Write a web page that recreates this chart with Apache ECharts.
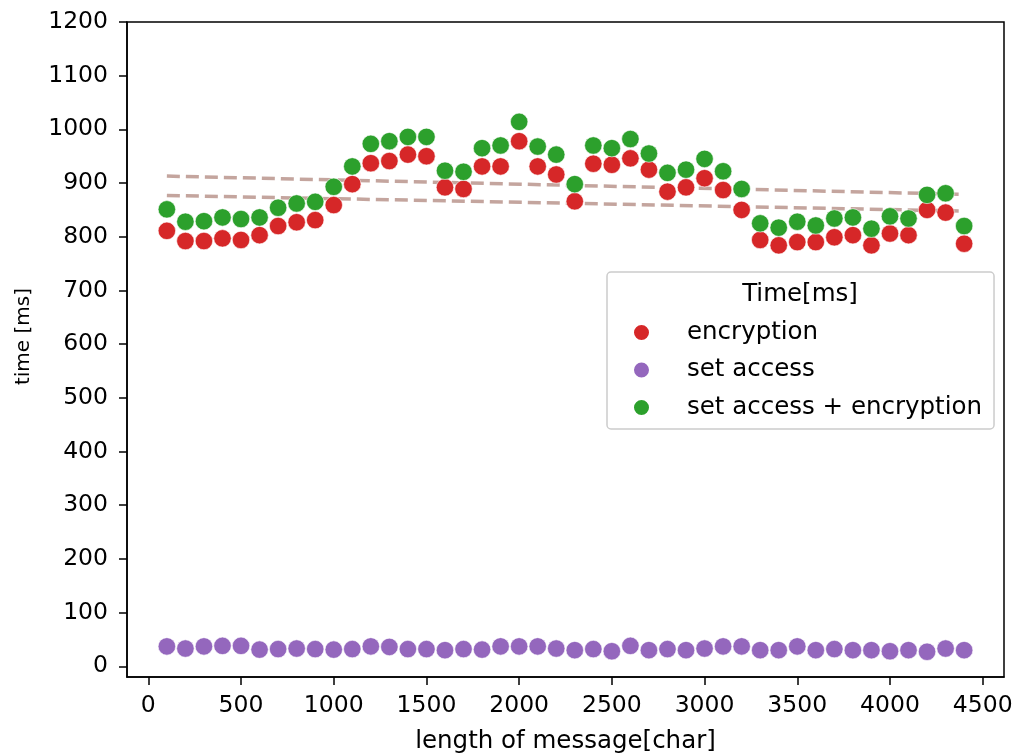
<!DOCTYPE html>
<html>
<head>
<meta charset="utf-8">
<script src="https://cdn.jsdelivr.net/npm/echarts@6/dist/echarts.min.js"></script>
<style>
  html, body { margin: 0; padding: 0; background: #fff; }
  #chart { width: 1016px; height: 755px; }
</style>
</head>
<body>
<div id="chart"></div>
<script>
var msgLength = [100, 200, 300, 400, 500, 600, 700, 800, 900, 1000, 1100, 1200, 1300, 1400, 1500,
  1600, 1700, 1800, 1900, 2000, 2100, 2200, 2300, 2400, 2500, 2600, 2700, 2800, 2900, 3000,
  3100, 3200, 3300, 3400, 3500, 3600, 3700, 3800, 3900, 4000, 4100, 4200, 4300, 4400];
var encryption = [811, 792, 792, 797, 794, 803, 820, 827, 831, 859, 898, 937, 941, 953, 950,
  892, 889, 931, 931, 978, 931, 916, 866, 936, 934, 946, 925, 884, 892, 909,
  887, 850, 794, 784, 790, 790, 799, 803, 784, 806, 803, 850, 845, 787];
var setAccess = [37, 33, 37, 38, 38, 31, 32, 33, 32, 31, 32, 37, 36, 32, 32,
  30, 32, 31, 37, 37, 37, 33, 30, 32, 28, 38, 30, 32, 30, 33,
  37, 37, 30, 30, 37, 30, 32, 30, 30, 28, 30, 27, 33, 30];
var setAccessEnc = [851, 828, 829, 836, 833, 836, 854, 862, 865, 893, 931, 973, 978, 986, 986,
  923, 921, 965, 970, 1014, 968, 953, 898, 970, 965, 982, 955, 919, 925, 945,
  922, 889, 825, 817, 828, 821, 834, 836, 815, 838, 834, 878, 881, 820];
// dashed trend lines, end points
var trendEnc = [[100, 877], [4400, 848]];
var trendBoth = [[100, 913], [4400, 879]];
var xTicks = [0, 500, 1000, 1500, 2000, 2500, 3000, 3500, 4000, 4500];
var yTicks = [0, 100, 200, 300, 400, 500, 600, 700, 800, 900, 1000, 1100, 1200];

function pairs(xs, ys) {
  return xs.map(function(x, i) { return [x, ys[i]]; });
}

var font = 'DejaVu Sans';
var chart = echarts.init(document.getElementById('chart'), null, { renderer: 'canvas' });

function dots(name, color, values) {
  return {
    name: name,
    type: 'scatter',
    data: pairs(msgLength, values),
    symbol: 'circle',
    symbolSize: 17.5,
    itemStyle: { color: color, opacity: 1, borderColor: '#fff', borderWidth: 0.6 },
    z: 3
  };
}

function trend(data) {
  return {
    type: 'line',
    data: data,
    showSymbol: false,
    silent: true,
    lineStyle: { color: '#c4a59e', width: 3.5, type: [13, 6] },
    z: 2
  };
}

function plain(v) { return String(v); }

chart.setOption({
  animation: false,
  backgroundColor: '#fff',
  grid: {
    left: 127, right: 12, top: 22, bottom: 78,
    outerBoundsMode: 'none',
    containLabel: false,
    show: true, borderColor: '#000', borderWidth: 1.5, backgroundColor: 'transparent'
  },
  xAxis: {
    type: 'value',
    min: -115,
    max: 4615,
    name: 'length of message[char]',
    nameLocation: 'middle',
    nameGap: 52,
    nameTextStyle: { fontFamily: font, fontSize: 24.5, color: '#000' },
    axisLine: { show: true, onZero: false, lineStyle: { color: '#000', width: 1.5 } },
    axisTick: { show: true, length: 8, lineStyle: { color: '#000', width: 1.5 }, customValues: xTicks },
    axisLabel: { fontFamily: font, fontSize: 23.5, color: '#000', margin: 17, customValues: xTicks, formatter: plain },
    splitLine: { show: false }
  },
  yAxis: {
    type: 'value',
    min: -20,
    max: 1200,
    name: 'time [ms]',
    nameLocation: 'middle',
    nameGap: 93,
    nameRotate: 90,
    nameTextStyle: { fontFamily: font, fontSize: 20, color: '#000', padding: [0, 0, 0, 26] },
    axisLine: { show: true, onZero: false, lineStyle: { color: '#000', width: 1.5 } },
    axisTick: { show: true, length: 8, lineStyle: { color: '#000', width: 1.5 }, customValues: yTicks },
    axisLabel: { fontFamily: font, fontSize: 23.5, color: '#000', margin: 19, padding: [9, 0, 0, 0], customValues: yTicks, formatter: plain },
    splitLine: { show: false }
  },
  legend: {
    data: ['encryption', 'set access', 'set access + encryption'],
    orient: 'vertical',
    left: 607,
    top: 272,
    padding: [48, 12, 9, 25],
    itemGap: 12.5,
    itemWidth: 17,
    itemHeight: 17,
    icon: 'circle',
    backgroundColor: 'rgba(255,255,255,0.8)',
    borderColor: '#cccccc',
    borderWidth: 1.5,
    borderRadius: 4,
    textStyle: { fontFamily: font, fontSize: 24.5, color: '#000', lineHeight: 20, padding: [0, 0, 0, 32] }
  },
  graphic: [{
    type: 'text',
    x: 800,
    y: 295,
    z: 100,
    style: { text: 'Time[ms]', fontFamily: font, fontSize: 24.5, fill: '#000', align: 'center', verticalAlign: 'middle' }
  }],
  series: [
    trend(trendEnc),
    trend(trendBoth),
    dots('encryption', '#d62728', encryption),
    dots('set access', '#9467bd', setAccess),
    dots('set access + encryption', '#2ca02c', setAccessEnc)
  ]
});
window.addEventListener('resize', function() { chart.resize(); });
</script>
</body>
</html>
